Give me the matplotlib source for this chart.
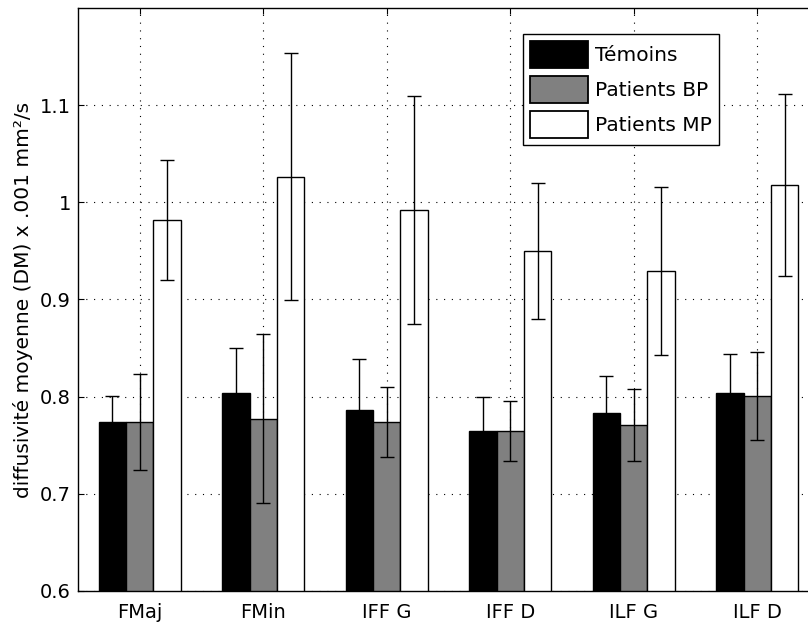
import numpy as np
import matplotlib
matplotlib.use('Agg')
import matplotlib.pyplot as plt

# values
groups = ['FMaj', 'FMin', 'IFF G', 'IFF D', 'ILF G', 'ILF D']
series_names = ['Témoins', 'Patients BP', 'Patients MP']

temoins = [0.774, 0.804, 0.786, 0.7645, 0.783, 0.804]
temoins_err = [0.027, 0.046, 0.053, 0.0355, 0.038, 0.040]

patients_bp = [0.774, 0.7775, 0.774, 0.7645, 0.771, 0.8007]
patients_bp_err = [0.049, 0.087, 0.036, 0.031, 0.037, 0.045]

patients_mp = [0.982, 1.0265, 0.992, 0.950, 0.929, 1.018]
patients_mp_err = [0.062, 0.127, 0.117, 0.070, 0.0865, 0.094]

yticks = [0.6, 0.7, 0.8, 0.9, 1.0, 1.1]
yticklabels = ['0.6', '0.7', '0.8', '0.9', '1', '1.1']

plt.rcParams['font.family'] = ['DejaVu Sans']
plt.rcParams['font.size'] = 14

fig = plt.figure(figsize=(8.08, 6.28), dpi=100)
# axes runs past the right edge of the picture, like the reference crop
ax = fig.add_axes([78 / 808, 37 / 628, 741 / 808, 583 / 628])

x = np.arange(1, len(groups) + 1)
w = 0.667 / 3
offsets = [-w, 0, w]
colors = ['black', '#808080', 'white']
means = [temoins, patients_bp, patients_mp]
errs = [temoins_err, patients_bp_err, patients_mp_err]

for off, col, m, e, name in zip(offsets, colors, means, errs, series_names):
    ax.bar(x + off, m, width=w, color=col, edgecolor='black', linewidth=1.0,
           label=name, zorder=2)
    ax.errorbar(x + off, m, yerr=e, fmt='none', ecolor='black', elinewidth=1.0,
                capsize=4.7, capthick=1.0, zorder=3)

ax.set_xlim(0.5, 6.5)
ax.set_ylim(0.6, 1.2)
ax.set_xticks(x)
ax.set_xticklabels(groups)
ax.set_yticks(yticks)
ax.set_yticklabels(yticklabels)

ax.grid(True, color='black', linestyle=(0, (1, 6)), linewidth=0.8, zorder=0)
ax.set_axisbelow(True)

ax.tick_params(axis='both', direction='in', length=4, width=0.8,
               top=True, right=True, labelsize=14)
ax.tick_params(axis='x', pad=9)
ax.tick_params(axis='y', pad=5)
for sp in ax.spines.values():
    sp.set_linewidth(1.0)

ax.set_ylabel('diffusivité moyenne (DM) x .001 mm²/s', fontsize=14.5, labelpad=5)

leg = ax.legend(loc='upper right', bbox_to_anchor=(0.865, 0.955), fancybox=False,
                framealpha=1, edgecolor='black', fontsize=14.5, handlelength=2.9,
                handleheight=1.7, labelspacing=0.38, handletextpad=0.35,
                borderpad=0.35, borderaxespad=0)
leg.get_frame().set_linewidth(1.0)
for p in leg.get_patches():
    p.set_linewidth(1.3)

plt.savefig('out.png', dpi=100)
